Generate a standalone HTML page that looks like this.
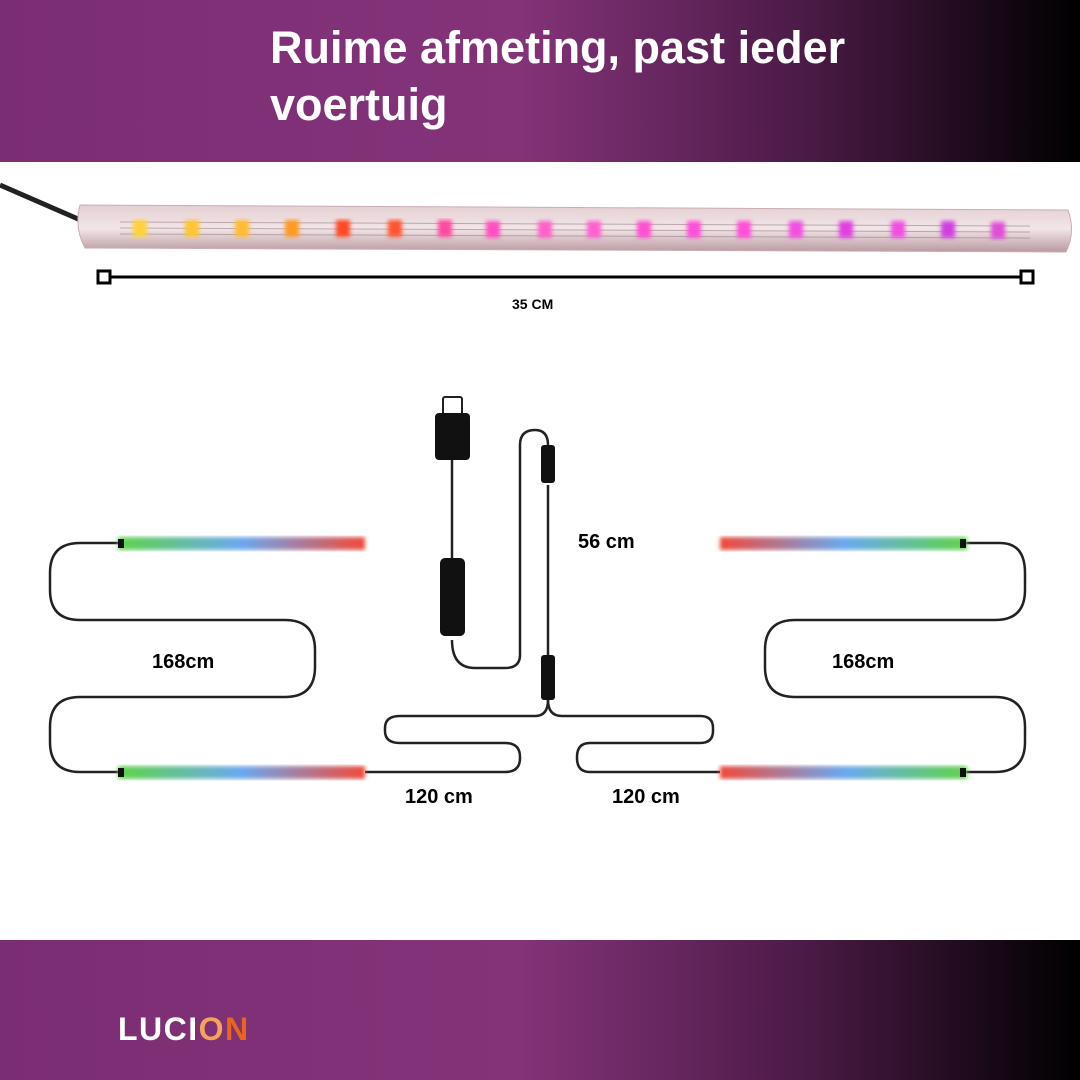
<!DOCTYPE html><html><head><style>
body{margin:0;width:1080px;height:1080px;overflow:hidden;background:#fff;font-family:"Liberation Sans",sans-serif}
.bar{position:absolute;left:0;width:1080px;background:linear-gradient(90deg,#7b2d73 0%,#843379 48%,#4a1a45 75%,#000 100%)}
</style></head><body>
<div class="bar" style="top:0;height:162px"></div>
<div class="bar" style="top:940px;height:140px"></div>
<div style="position:absolute;left:270px;top:19px;color:#fff;font-weight:bold;font-size:45px;line-height:57px">Ruime afmeting, past ieder<br>voertuig</div>
<div style="position:absolute;left:118px;top:1011px;font-weight:bold;font-size:32px;color:#fff;letter-spacing:1.5px">LUCI<span style="color:#f3a35a">O</span><span style="color:#e8661c">N</span></div>
<svg width="1080" height="1080" style="position:absolute;left:0;top:0">
<defs>
<linearGradient id="tube" x1="0" y1="0" x2="0" y2="1"><stop offset="0" stop-color="#e4cfd2"/><stop offset=".5" stop-color="#f2e6e8"/><stop offset="1" stop-color="#b99aa0"/></linearGradient>
<linearGradient id="sL" x1="0" x2="1"><stop offset="0" stop-color="#5fd44a"/><stop offset=".5" stop-color="#6aa8f0"/><stop offset="1" stop-color="#f04a3a"/></linearGradient>
<linearGradient id="sR" x1="0" x2="1"><stop offset="0" stop-color="#f04a3a"/><stop offset=".5" stop-color="#6aa8f0"/><stop offset="1" stop-color="#5fd44a"/></linearGradient>
<filter id="bl"><feGaussianBlur stdDeviation="2"/></filter>
</defs>
<path d="M0 185 L85 222" stroke="#222" stroke-width="5"/>
<path d="M80 205 L1068 210 Q1076 232 1066 252 L85 248 Q74 228 80 205Z" fill="url(#tube)" stroke="#c9aeb3"/>
<g stroke="#9a8088" stroke-width="1" opacity=".6"><line x1="120" y1="222" x2="1030" y2="226"/><line x1="120" y1="228" x2="1030" y2="232"/><line x1="120" y1="234" x2="1030" y2="238"/></g>
<g filter="url(#bl)">
<rect x="133" y="220" width="14" height="17" fill="#ffd23a"/><rect x="185" y="220" width="14" height="17" fill="#ffc530"/><rect x="235" y="220" width="14" height="17" fill="#ffbb30"/><rect x="285" y="220" width="14" height="17" fill="#ff9a20"/><rect x="336" y="220" width="14" height="17" fill="#ff4a20"/><rect x="388" y="220" width="14" height="17" fill="#ff5530"/><rect x="438" y="220" width="14" height="17" fill="#ff4aa0"/><rect x="486" y="221" width="14" height="17" fill="#ff50c0"/><rect x="538" y="221" width="14" height="17" fill="#ff60c8"/><rect x="587" y="221" width="14" height="17" fill="#ff60d0"/><rect x="637" y="221" width="14" height="17" fill="#ff50d0"/><rect x="687" y="221" width="14" height="17" fill="#ff50d8"/><rect x="737" y="221" width="14" height="17" fill="#ff50d8"/><rect x="789" y="221" width="14" height="17" fill="#f050e0"/><rect x="839" y="221" width="14" height="17" fill="#e040e0"/><rect x="891" y="221" width="14" height="17" fill="#f050e0"/><rect x="941" y="221" width="14" height="17" fill="#d040e0"/><rect x="991" y="222" width="14" height="17" fill="#e050d8"/>
</g>
<line x1="104" y1="277" x2="1027" y2="277" stroke="#000" stroke-width="3"/>
<rect x="98" y="271" width="12" height="12" fill="#fff" stroke="#000" stroke-width="3"/>
<rect x="1021" y="271" width="12" height="12" fill="#fff" stroke="#000" stroke-width="3"/>
<text x="512" y="309" font-size="14" font-weight="bold" font-family="Liberation Sans">35 CM</text>
<g fill="none" stroke="#222" stroke-width="2.5">
<path d="M120 543 H80 Q50 543 50 573 V590 Q50 620 80 620 H285 Q315 620 315 650 V667 Q315 697 285 697 H80 Q50 697 50 727 V742 Q50 772 80 772 H120"/>
<path d="M960 543 H1000 Q1025 543 1025 573 V590 Q1025 620 995 620 H795 Q765 620 765 650 V667 Q765 697 795 697 H995 Q1025 697 1025 727 V742 Q1025 772 995 772 H960"/>
<path d="M365 772 H505 Q520 772 520 758 V757 Q520 743 505 743 H400 Q385 743 385 731 V728 Q385 716 400 716 H535 Q548 716 548 700"/>
<path d="M720 772 H590 Q577 772 577 758 V757 Q577 743 590 743 H700 Q713 743 713 731 V728 Q713 716 700 716 H562 Q548 716 548 700"/>
<path d="M548 660 V485 M548 445 Q548 430 535 430 Q520 430 520 445 V655 Q520 668 505 668 H475 Q452 668 452 640 M452 460 V560"/>
</g>
<rect x="118" y="537" width="247" height="13" fill="url(#sL)" filter="url(#bl)"/>
<rect x="118" y="766" width="247" height="13" fill="url(#sL)" filter="url(#bl)"/>
<rect x="720" y="537" width="247" height="13" fill="url(#sR)" filter="url(#bl)"/>
<rect x="720" y="766" width="247" height="13" fill="url(#sR)" filter="url(#bl)"/>
<rect x="118" y="539" width="6" height="9" fill="#111"/><rect x="118" y="768" width="6" height="9" fill="#111"/>
<rect x="960" y="539" width="6" height="9" fill="#111"/><rect x="960" y="768" width="6" height="9" fill="#111"/>
<rect x="443" y="397" width="19" height="18" rx="2" fill="#fff" stroke="#222" stroke-width="2"/>
<rect x="435" y="413" width="35" height="47" rx="4" fill="#111"/>
<rect x="440" y="558" width="25" height="78" rx="5" fill="#111"/>
<rect x="541" y="445" width="14" height="38" rx="3" fill="#111"/>
<rect x="541" y="655" width="14" height="45" rx="3" fill="#111"/>
<g font-family="Liberation Sans" font-weight="bold" font-size="20" fill="#000">
<text x="578" y="548">56 cm</text><text x="152" y="668">168cm</text><text x="832" y="668">168cm</text>
<text x="405" y="803">120 cm</text><text x="612" y="803">120 cm</text>
</g>
</svg>
</body></html>
